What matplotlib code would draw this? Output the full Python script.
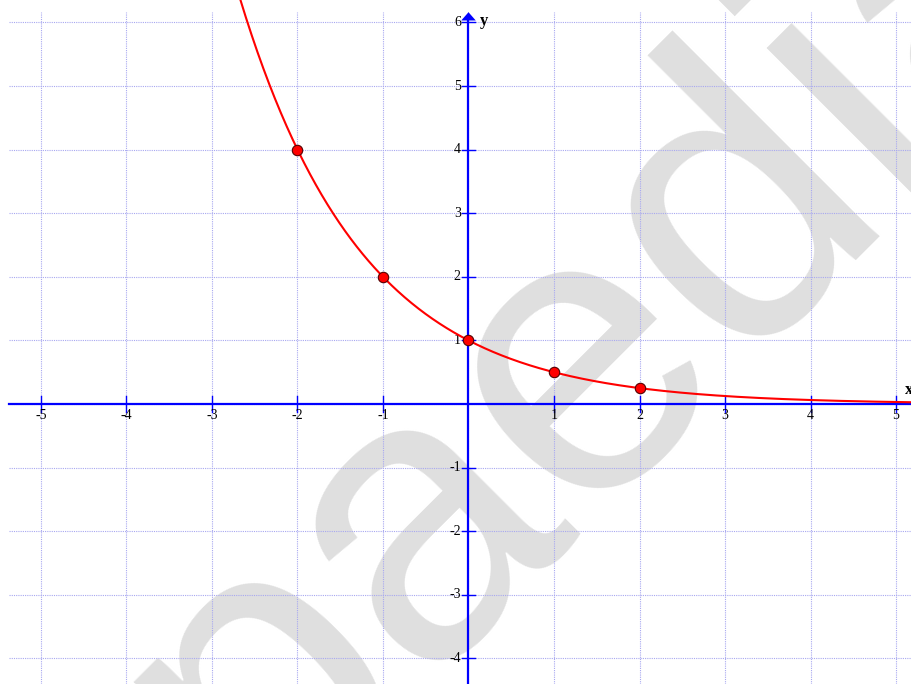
import numpy as np
import matplotlib
matplotlib.use("Agg")
import matplotlib.pyplot as plt

# points of y = (1/2)^x
pts_x = [-2, -1, 0, 1, 2]
pts_y = [4, 2, 1, 0.5, 0.25]
base = 0.5

x_ticks = [-5, -4, -3, -2, -1, 1, 2, 3, 4, 5]
y_ticks = [-4, -3, -2, -1, 1, 2, 3, 4, 5, 6]

W, H = 911, 684
my_dpi = 100
fig = plt.figure(figsize=(W / my_dpi, H / my_dpi), dpi=my_dpi)
ax = fig.add_axes([0, 0, 1, 1])
ax.set_xlim(-468.5 / 85.5, (W - 468.5) / 85.5)
ax.set_ylim(-(H - 404) / 63.6, 404 / 63.6)
ax.axis('off')

# watermark (behind everything)
ax.text(258 / W, 1 - 833 / H, 'paedia', rotation=45, rotation_mode='anchor',
        ha='left', va='baseline', fontsize=290, family='Liberation Sans',
        color='#dfdfdf', zorder=0, transform=fig.transFigure)

# grid
gx0, gy1 = -5.37, 6.16
ymin, ymax = ax.get_ylim()
xmin, xmax = ax.get_xlim()
ax.vlines(range(-5, 6), ymin, gy1, colors='#a8a8f0', linestyles=(0, (1, 1)), linewidth=0.8, zorder=1)
ax.hlines(range(-4, 7), gx0, xmax, colors='#a8a8f0', linestyles=(0, (1, 1)), linewidth=0.8, zorder=1)

# axes
ax.plot([gx0, xmax], [0, 0], color='#0000ff', lw=1.6, zorder=3)
ax.plot([0, 0], [ymin, 6.05], color='#0000ff', lw=1.6, zorder=3)
ax.fill([-0.085, 0.085, 0], [6.03, 6.03, 6.16], color='#0000ff', lw=0, zorder=3)
for t in x_ticks:
    ax.plot([t, t], [-0.125, 0.125], color='#0000ff', lw=1, zorder=3)
    ax.text(t, -0.08, str(t), ha='center', va='top', fontsize=10,
            family='Liberation Serif', zorder=4)
for t in y_ticks:
    ax.plot([-0.08, 0.08], [t, t], color='#0000ff', lw=1, zorder=3)
    ax.text(-0.09, t, str(t), ha='right', va='center', fontsize=10,
            family='Liberation Serif', zorder=4)
ax.text(0.13, 6.02, 'y', ha='left', va='center', fontsize=12, fontweight='bold',
        family='Liberation Serif', zorder=4)
ax.text(5.11, 0.22, 'x', ha='left', va='center', fontsize=12, fontweight='bold',
        family='Liberation Serif', zorder=4)

# curve and points
xx = np.linspace(-3, xmax, 600)
ax.plot(xx, base ** xx, color='#ff0000', lw=1.5, zorder=5)
ax.plot(pts_x, pts_y, 'o', ms=7.5, mfc='#ff0000', mec='#550000', mew=0.8, zorder=6)

fig.savefig('out.png', dpi=my_dpi)
